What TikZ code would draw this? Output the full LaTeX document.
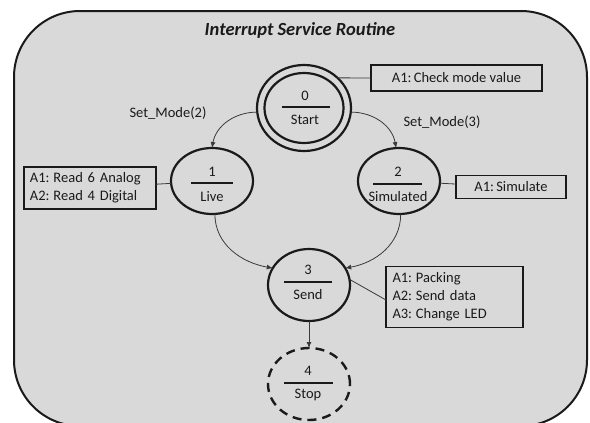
\documentclass[tikz,border=0pt]{standalone}
\usepackage{fontspec}
\setmainfont{Carlito}
\usetikzlibrary{arrows.meta,shapes.geometric}
\definecolor{panel}{HTML}{D9D9D9}
\definecolor{ink}{HTML}{1A1A1A}
\definecolor{wire}{HTML}{3A3A3A}
\frenchspacing
% tight gap after an action tag
\newcommand{\tagcolon}{:\hspace{-1pt} }
\begin{document}
\begin{tikzpicture}[x=1pt,y=-1pt,
  every node/.style={font=\fontsize{14.5}{18}\selectfont, text=ink},
  statering/.style={ellipse, draw=ink, line width=2.2pt, fill=panel,
    inner sep=0pt, outer sep=0pt},
  stopring/.style={statering, dash pattern=on 9pt off 6pt, line width=2.4pt},
  actionbox/.style={rectangle, draw=ink, line width=1.3pt, fill=panel,
    inner sep=0pt, outer sep=0pt},
  numtxt/.style={anchor=base, inner sep=0pt},
  fracrule/.style={draw=ink, line width=1.4pt},
  wirepath/.style={draw=wire, line width=0.8pt},
  flow/.style={wirepath, -{Latex[length=6pt,width=5pt]}},
]
\useasboundingbox (0,0) rectangle (590,423);

% rounded panel behind everything
\draw[line width=2pt, draw=ink, fill=panel, rounded corners=66pt]
  (14,11) rectangle (587,426);

\node[font=\fontsize{18.5}{22}\selectfont\bfseries\itshape] (title) at (300,30)
  {Interrupt Service Routine};

% state 0: start (double ring)
\node[statering, minimum width=94pt, minimum height=86pt] (s0) at (304,108) {};
\node[statering, minimum width=79pt, minimum height=70pt] (s0in) at (304,108) {};
\node[numtxt] (s0n) at (305,100) {0};
\draw[fracrule] (282,107) -- (330,107);
\node[numtxt] (s0t) at (305,124) {Start};

% state 1: live
\node[statering, minimum width=82pt, minimum height=66pt] (s1) at (212,181) {};
\node[numtxt] (s1n) at (212,176) {1};
\draw[fracrule] (191,183) -- (233,183);
\node[numtxt] (s1t) at (212,201) {Live};

% state 2: simulated
\node[statering, minimum width=82pt, minimum height=66pt] (s2) at (399,181) {};
\node[numtxt] (s2n) at (398,176) {2};
\draw[fracrule] (373,184) -- (422,184);
\node[numtxt] (s2t) at (398,201) {Simulated};

% state 3: send
\node[statering, minimum width=82pt, minimum height=72pt] (s3) at (309,285) {};
\node[numtxt] (s3n) at (308,274) {3};
\draw[fracrule] (284,282) -- (332,282);
\node[numtxt] (s3t) at (308,299) {Send};

% state 4: stop (dashed)
\node[stopring, minimum width=82pt, minimum height=72pt] (s4) at (309,384) {};
\node[numtxt] (s4n) at (308,375) {4};
\draw[fracrule] (284,383) -- (333,383);
\node[numtxt] (s4t) at (308,398) {Stop};

% action boxes
\node[actionbox, minimum width=171pt, minimum height=26pt] (b0) at (456.5,78)
  {A1\tagcolon Check mode value};
\node[actionbox, minimum width=132pt, minimum height=42pt, text width=120pt,
  align=left] (b1) at (90,188)
  {A1\tagcolon Read 6 Analog\\A2\tagcolon Read 4 Digital};
\node[actionbox, minimum width=110pt, minimum height=23pt] (b2) at (511,187)
  {A1\tagcolon Simulate};
\node[actionbox, minimum width=137pt, minimum height=61pt, text width=124pt,
  align=left] (b3) at (454.5,297)
  {A1\tagcolon Packing\\A2\tagcolon Send data\\A3\tagcolon Change LED};

% action links
\draw[wirepath] (s0.42) -- (b0.west);
\draw[wirepath] (b1) -- (s1);
\draw[wirepath] (s2) -- (b2);
\draw[wirepath] (s3.8) -- ([yshift=-3pt]b3.west);

% transitions
\draw[flow] (s0.185) to[out=180, in=80] (s1.north);
\draw[flow] (s0.-5) to[out=0, in=100] (s2.95);
\draw[flow] (s1.-85) to[out=-90, in=170] (s3.155);
\draw[flow] (s2.-87) to[out=-90, in=10] (s3.25);
\draw[flow] (s3.south) -- (s4.north);

\node (m2) at (168,113) {Set\_Mode(2)};
\node (m3) at (442,122) {Set\_Mode(3)};
\end{tikzpicture}
\end{document}
